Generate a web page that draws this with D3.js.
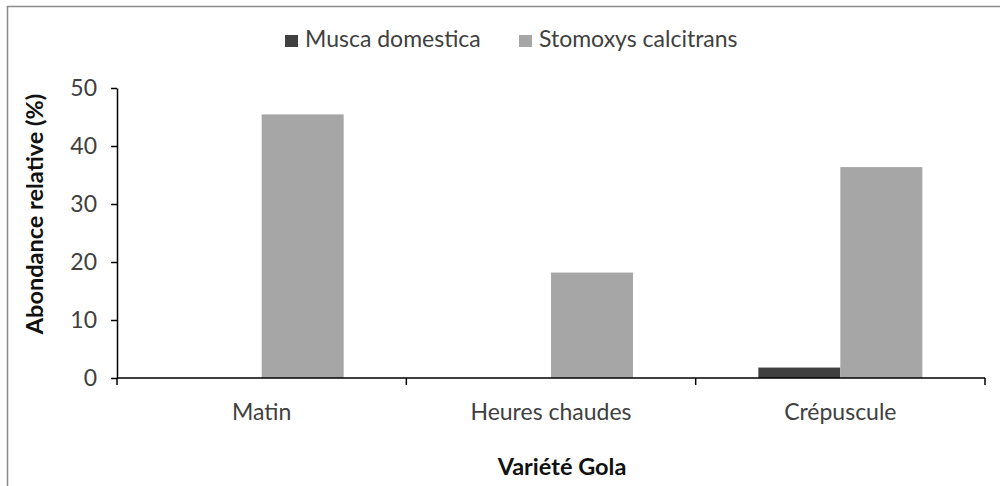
<!DOCTYPE html>
<html>
<head>
<meta charset="utf-8">
<script src="https://cdn.jsdelivr.net/npm/d3@7"></script>
<style>
  html, body { margin: 0; padding: 0; background: #fff; }
  svg { display: block; font-family: Lato, "Open Sans", sans-serif; }
</style>
</head>
<body>
<svg id="chart" width="1000" height="486"></svg>
<script>
// Relative abundance (%) of the two fly species per period of the day
const categories = ["Matin", "Heures chaudes", "Crépuscule"];
const series = ["Musca domestica", "Stomoxys calcitrans"];
const muscaValues = [0, 0, 1.8];
const stomoxysValues = [45.45, 18.18, 36.36];
const yTicks = [0, 10, 20, 30, 40, 50];
const colors = ["#404040", "#a6a6a6"];

const values = [muscaValues, stomoxysValues];
const rows = categories.map((c, i) => ({
  category: c,
  bars: series.map((s, j) => ({ series: s, value: values[j][i], color: colors[j] }))
}));

const svg = d3.select("#chart");

// outer frame of the chart area
svg.append("rect")
  .attr("x", 7.5).attr("y", 6.5)
  .attr("width", 1000).attr("height", 500)
  .attr("fill", "none").attr("stroke", "#8a8a8a").attr("stroke-width", 1.5);

const plotLeft = 117, plotRight = 985, plotTop = 88, plotBottom = 378;

const x0 = d3.scaleBand().domain(categories).range([plotLeft, plotRight]).padding(0);
const x1 = d3.scaleBand().domain(series).range([0, x0.bandwidth()])
  .paddingInner(0).paddingOuter(0.764);
const y = d3.scaleLinear().domain([0, 50]).range([plotBottom, plotTop]);

// bars
const groups = svg.append("g").selectAll("g").data(rows).join("g")
  .attr("transform", d => `translate(${x0(d.category)},0)`);
groups.selectAll("rect").data(d => d.bars).join("rect")
  .attr("x", d => x1(d.series))
  .attr("y", d => y(d.value))
  .attr("width", x1.bandwidth())
  .attr("height", d => y(0) - y(d.value))
  .attr("fill", d => d.color);

// y axis
const yAxis = svg.append("g")
  .attr("transform", `translate(${plotLeft},0)`)
  .call(d3.axisLeft(y).tickValues(yTicks).tickSize(6).tickSizeOuter(0).tickPadding(14));
yAxis.select(".domain").attr("stroke", "#000").attr("stroke-width", 1.5);
yAxis.selectAll(".tick line").attr("stroke", "#000").attr("stroke-width", 1.5);
yAxis.selectAll(".tick text")
  .attr("fill", "#404040").attr("font-size", 23).attr("font-family", "Lato, sans-serif");

// x axis: line with ticks on the category boundaries
const xAxis = svg.append("g").attr("transform", `translate(0,${plotBottom})`);
xAxis.append("line")
  .attr("x1", plotLeft).attr("x2", plotRight).attr("y1", 0).attr("y2", 0)
  .attr("stroke", "#000").attr("stroke-width", 1.5);
const boundaries = categories.map(c => x0(c)).concat([x0.range()[1]]);
xAxis.selectAll("line.tick").data(boundaries).join("line")
  .attr("class", "tick")
  .attr("x1", d => d).attr("x2", d => d).attr("y1", 0).attr("y2", 7)
  .attr("stroke", "#000").attr("stroke-width", 1.5);
xAxis.selectAll("text").data(categories).join("text")
  .attr("x", d => x0(d) + x0.bandwidth() / 2)
  .attr("y", 42)
  .attr("text-anchor", "middle")
  .attr("fill", "#404040").attr("font-size", 23)
  .text(d => d);

// axis titles
svg.append("text")
  .attr("x", 562).attr("y", 475)
  .attr("text-anchor", "middle")
  .attr("font-size", 23.5).attr("font-weight", "bold").attr("fill", "#111")
  .text("Variété Gola");
svg.append("text")
  .attr("transform", "translate(43,214) rotate(-90)")
  .attr("text-anchor", "middle")
  .attr("font-size", 23.5).attr("font-weight", "bold").attr("fill", "#111")
  .text("Abondance relative (%)");

// legend
const legendPos = [285, 519];
const legend = svg.append("g").selectAll("g").data(series).join("g")
  .attr("transform", (d, i) => `translate(${legendPos[i]},35)`);
legend.append("rect")
  .attr("width", 13).attr("height", 12)
  .attr("fill", (d, i) => colors[i]);
legend.append("text")
  .attr("x", 20).attr("y", 12)
  .attr("fill", "#404040").attr("font-size", 23)
  .text(d => d);
</script>
</body>
</html>
